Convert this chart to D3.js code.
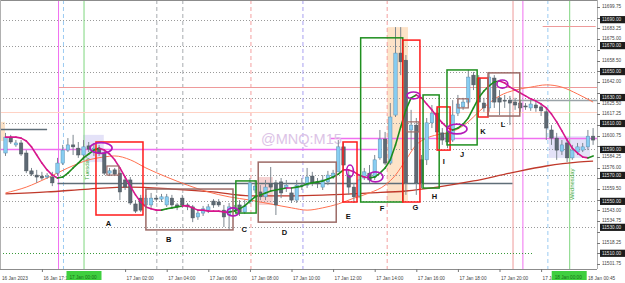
<!DOCTYPE html>
<html>
<head>
<meta charset="utf-8">
<script src="https://cdn.jsdelivr.net/npm/d3@7"></script>
<style>
  html, body { margin: 0; padding: 0; background: #fff; }
  svg { display: block; }
</style>
</head>
<body>
<div id="chart"></div>
<script>
// MNQ M15 — bougies + moyennes + annotations (lecture à l'oeil du screenshot)

// --- Données ---
const opens = [11587.25,11599.5,11593.5,11595,11587.25,11573.5,11570.25,11569.5,11568.75,11568.75,
  11571.75,11579.5,11589.5,11593.5,11591,11585.75,11592.75,11588,11591,11587.25,
  11571.75,11574.25,11571.75,11566.5,11566.5,11548,11552.5,11547.25,11547.25,11552.5,
  11551.75,11547.25,11552.5,11547.25,11552.5,11547.25,11545.75,11538,11541,11543.25,
  11550.25,11549.5,11543.25,11539.5,11543.25,11547.25,11541.75,11549.5,11558.75,11557.25,
  11553.5,11563.5,11564.25,11565,11560.25,11556.5,11551,11561.75,11562.5,11569.5,
  11565,11561,11565,11568.75,11572.75,11592,11570.25,11561,11554.25,11568,
  11571.75,11568.75,11583.5,11598,11579.5,11616.5,11664.25,11658.75,11605,11608.75,
  11582,11582,11610.5,11618,11602.75,11602.75,11597.25,11618,11622.75,11626.5,
  11647.25,11645,11625.75,11622,11645,11629.75,11628,11628,11626.5,11625.75,
  11623.5,11622,11624.25,11622.75,11619,11605,11598.75,11588.75,11595,11583.5,
  11588,11589.5,11592,11600.25]
const highs = [11602.75,11601.25,11597.25,11597.25,11589.5,11575.75,11574.25,11572.75,11571.75,11572.75,
  11583.5,11593.5,11598.75,11601.25,11595.75,11597.25,11595.75,11595,11593.5,11589.5,
  11575.75,11575.75,11574.25,11569.5,11568.75,11551,11555,11555,11556.5,11555,
  11555.75,11555.75,11555,11548.75,11555,11548.75,11547.25,11543.25,11546.5,11548,
  11551.75,11551.75,11547.25,11548.75,11547.25,11551,11551,11568,11566.5,11562.5,
  11566.5,11576.5,11566.5,11568,11566.5,11560.25,11566.5,11568,11575.75,11572.75,
  11568,11570.25,11573.5,11574.25,11597.25,11595,11574.25,11564.25,11569.5,11575.75,
  11578,11585.75,11605,11603.5,11625.75,11684.25,11684.25,11662.75,11620.5,11614.25,
  11585.75,11614.25,11624.25,11622,11606.5,11606.5,11628,11632,11629.75,11651.25,
  11649.75,11647.25,11629.75,11649.75,11647.25,11635.75,11632,11631.25,11629.75,11628,
  11625.75,11628,11626.5,11625,11622,11608.75,11602.75,11597.25,11598.75,11593.5,
  11595,11595,11605,11606.5]
const lows = [11585,11594.25,11592,11585,11571.75,11569.5,11564.25,11566.5,11567.25,11561.75,
  11570.25,11578,11588,11585.75,11583.5,11582,11588,11585,11585,11570.25,
  11569.5,11569.5,11551,11558.75,11547.25,11541,11541.75,11545,11545,11550.25,
  11549.5,11545.75,11545,11543.25,11545,11543.25,11534,11535.75,11538.75,11541,
  11545,11545.75,11530.25,11528,11541.75,11538.75,11540.25,11548,11556.5,11551,
  11551,11558.75,11539.5,11552.5,11557.25,11548.75,11548.75,11558.75,11560.25,11561.75,
  11560.25,11558.75,11562.5,11567.25,11575.75,11574.25,11555,11548.75,11552.5,11566.5,
  11564.25,11566.5,11582,11578,11578,11615,11647.25,11555,11589.5,11555,
  11560.25,11578,11606.5,11597.25,11593.5,11591,11595.75,11615.75,11620.5,11625,
  11635.75,11620.5,11619,11619,11622,11616.5,11622,11608.75,11620.5,11619,
  11620.5,11619.75,11619,11615.75,11597.25,11593.5,11582,11585.75,11580.25,11582,
  11585.75,11588,11589.5,11593.5]
const closes = [11599.5,11595.75,11595,11586.5,11573.5,11571,11568.75,11568,11569.5,11564.25,
  11579.5,11589.5,11593.5,11592,11585.75,11592,11590.25,11591,11587.25,11571.75,
  11573.5,11571,11557.25,11561,11548.75,11542.5,11543.25,11552.5,11552.5,11551.75,
  11553.5,11553.5,11547.25,11545.75,11547.25,11545.75,11537.25,11541,11544.25,11545.75,
  11547.25,11547.25,11538,11545.75,11545,11541.75,11546.5,11564.25,11561.75,11553.5,
  11561,11561,11547.25,11556.5,11562.5,11551,11562.5,11562.5,11568.75,11564.25,
  11563.5,11566.5,11570.25,11571.75,11592,11578,11561,11553.5,11566.5,11572.75,
  11566.5,11582,11598,11579.5,11615,11664.25,11657.5,11564.25,11608.75,11564.25,
  11564.25,11610.5,11618,11603.5,11597.25,11595.75,11616.5,11625,11626.5,11645.75,
  11639.75,11626.5,11622,11645.75,11626.5,11626.5,11627.25,11625.75,11624.25,11622,
  11622.75,11625,11622,11619.75,11606.5,11598.75,11589.5,11593.5,11583.5,11589.5,
  11592,11592,11600.25,11597.25]

// moyenne rapide (une valeur par bougie), couleur selon la pente
const fastMA = [11599.5,11599.5,11599.5,11598.75,11596.5,11592,11585.75,11579.5,11574.25,11570.25,
  11568,11568.75,11571.75,11575.75,11579.5,11583.5,11586.5,11589.5,11591,11589.5,
  11586.5,11582,11575.75,11568.75,11561.75,11555,11549.5,11545.75,11544.25,11543.25,
  11543.25,11544.25,11545,11545.75,11546.5,11546.5,11545,11543.25,11543.25,11542.5,
  11542.5,11542.5,11541.75,11541.75,11542.5,11544.25,11546.5,11550.25,11553.5,11555,
  11556.5,11558,11558.75,11559.5,11560.25,11560.25,11561,11561.75,11563.5,11564.25,
  11565,11565.75,11567.25,11568.75,11571,11574.25,11574.25,11572.75,11570.25,11568.75,
  11568,11568.75,11571.75,11575.75,11582,11593.5,11607.25,11620.5,11629.75,11632,
  11629.75,11625,11620.5,11615,11610.5,11606.5,11605,11606.5,11609.5,11614.25,
  11622,11629.75,11635,11639,11642,11642.75,11641.25,11638,11635.75,11633.5,
  11631.25,11629,11627.25,11625,11622,11617.25,11611.25,11604.25,11597.25,11591,
  11587.25,11584.25,11583.5,11585]

// moyennes lentes : points relevés [index bougie, prix]
const orangeMA = [[0,11556.5],[4,11561],[8,11568],[12,11575.75],[16,11582],[19,11584.25],[21,11585],
  [24,11582],[27,11575.75],[31,11568.75],[35,11562.5],[39,11557.25],[43,11553.5],[47,11551],
  [51,11548],[55,11545],[58,11543.25],[61,11545],[64,11548],[67,11552.5],[70,11556.5],
  [73,11562.5],[75,11570.25],[77,11582],[79,11593.5],[81,11598.75],[83,11601.25],[85,11602.75],
  [87,11605.75],[89,11611.25],[91,11619],[93,11625.75],[95,11631.25],[98,11635.75],[101,11638],
  [104,11639.75],[107,11638],[110,11632.75],[113,11626.5]]
const redMA = [[0,11555.75],[8,11557.25],[16,11559.5],[24,11561],[32,11559.5],[40,11557.25],
  [47,11554.25],[55,11554.25],[62,11555],[70,11556.5],[77,11558],[83,11561],[90,11565.75],
  [97,11571.75],[104,11577.25],[110,11580.25],[113,11581]]

// axe des temps
const tickIdx = [7, 23, 31, 39, 47, 55, 63, 71, 79, 87, 95, 103]
const tickLabels = ["16 Jan 17:15", "17 Jan 02:00", "17 Jan 04:00", "17 Jan 06:00", "17 Jan 08:00",
  "17 Jan 10:00", "17 Jan 12:00", "17 Jan 14:00", "17 Jan 16:00", "17 Jan 18:00", "17 Jan 20:00",
  "17 Jan 22:00"]
const firstLabel = "16 Jan 2023"
const lastLabel = "18 Jan 00:45"
const markedTimes = [[15, "17 Jan 00:00"], [108.5, "18 Jan 00:00"]]

// axe des prix
const priceMin = 11501.75
const priceStep = 8.25
const priceTicks = d3.range(25).map((k) => priceMin + k * priceStep)
const levelPrices = d3.range(11510, 11691, 20)

// lignes horizontales : [prix, index début, index fin, type]
const hLines = [
  [11605.75, -2, 8, "slate"], [11564.25, 10, 97.5, "slate"], [11628, 97, 116, "gray"],
  [11590.25, -2, 71.5, "pink"], [11598.75, 62.5, 116, "pink"], [11619, -2, 116, "peach"],
  [11638, 10.2, 116, "salmon"], [11685, 103.3, 113.5, "salmon"], [11510, -2, 101.5, "greendot"],
]
// lignes verticales : [index, type]
const vLines = [[10.2, "pink"], [11.15, "bluedash"], [15.1, "green"], [29.1, "graydash"],
  [34.1, "graydash"], [47.2, "pinkdash"], [57.2, "purpledash"], [73.4, "pinkdash"],
  [97.6, "salmon"], [99.5, "pink"], [104.3, "bluedash"], [108.5, "green"]]
const dayNames = [[15.1, 11566.5, "Tuesday"], [108.5, 11551, "Wednesday"]]

// zones ombrées : [i0, i1, p0, p1, type]
const shades = [[-1.06, -0.1, 11611.25, 11596.5, "peach"], [14.9, 18.9, 11601.25, 11580.25, "lavender"],
  [48.75, 51.4, 11568.75, 11547.25, "rose"], [73.4, 77.4, 11684.25, 11549.5, "peach"],
  [104.5, 112.4, 11600.25, 11583.5, "lavender"]]

// cadres : [lettre, i0, i1, pHaut, pBas, type, iLabel, pLabel]
const boxes = [
  ["A", 17.4, 26.44, 11595.75, 11539.5, "red", 19.8, 11532.25],
  ["B", 27, 43.75, 11559.5, 11528, "brown", 31.4, 11520],
  ["C", 44.3, 48.2, 11565.75, 11541, "green", 45.9, 11528.25],
  ["D", 48.6, 63.6, 11580.25, 11534, "brown", 53.65, 11525.25],
  ["E", 64.9, 67.6, 11595.75, 11549.5, "red", 65.9, 11538.25],
  ["F", 68.3, 76.4, 11676, 11549.5, "green", 72.4, 11543.75],
  ["G", 76.4, 79.7, 11674.25, 11549.5, "red", 78.85, 11544.5],
  ["H", 80.3, 83.4, 11632, 11560.25, "green", 82.5, 11553],
  ["I", 83, 85.5, 11622.75, 11589.5, "red", 84.3, 11580.25],
  ["J", 84.9, 90.7, 11651.25, 11593.5, "green", 87.8, 11586],
  ["K", 90.9, 92.8, 11645, 11615, "red", 91.8, 11603.5],
  ["L", 92.8, 98.9, 11649, 11615.75, "brown", 95.7, 11608.75],
]
const smallBoxes = [[19.5, 21.8, 11577.25, 11570.25], [77.2, 79.5, 11611.25, 11603.5],
  [87, 89, 11629, 11622]]
// ellipses : [i0, i1, pHaut, pBas]
const ellipses = [[16.25, 20.5, 11595.25, 11587], [42.6, 44.9, 11545, 11538.75],
  [65.6, 66.9, 11578, 11568.75], [69.7, 72.6, 11572.75, 11565], [77.2, 79.7, 11634.25, 11629],
  [84.9, 88.75, 11609.5, 11602], [94.5, 96.6, 11643.5, 11637.25]]

// --- Mise en page ---
const W = 625, H = 283
const plotR = 597, plotB = 269

const svg = d3.select("#chart").append("svg")
  .attr("width", W).attr("height", H)
  .attr("font-family", "Liberation Sans, Arial, sans-serif")

const x = d3.scaleLinear().domain([0, 113]).range([5.5, 593.1])
const y = d3.scaleLinear().domain([priceMin, priceMin + 24 * priceStep]).range([264, 7])
const fmt = d3.format(".2f")

const colors = {
  red: "#ff1a1a", green: "#1f8f1f", brown: "#9c6a66",
  slate: "#5f6e78", gray: "#9aa3a8", pink: "#f070f0", peach: "#ffd2c4", salmon: "#ee9a9a",
  greendot: "#3a9a3a", bluedash: "#9ccbf2", graydash: "#a8adb0", pinkdash: "#f4a0a0",
  purpledash: "#a8a0f0", lavender: "#e4e2f8", rose: "#f6d2d2",
  bull: "#87cdf2", bear: "#5d6973", wick: "#7d878f",
}

const plot = svg.append("g")
svg.append("defs").append("clipPath").attr("id", "clip")
  .append("rect").attr("x", 0).attr("y", 0).attr("width", plotR).attr("height", plotB)
plot.attr("clip-path", "url(#clip)")

// zones ombrées (derrière)
plot.selectAll("rect.shade").data(shades).join("rect")
  .attr("x", (d) => x(d[0])).attr("width", (d) => x(d[1]) - x(d[0]))
  .attr("y", (d) => y(d[2])).attr("height", (d) => y(d[3]) - y(d[2]))
  .attr("fill", (d) => d[4] === "peach" ? "#fde3c8" : colors[d[4]])

// grille pointillée aux niveaux ronds
plot.selectAll("line.grid").data(levelPrices.filter((p) => p !== 11510)).join("line")
  .attr("x1", 0).attr("x2", plotR)
  .attr("y1", (d) => Math.round(y(d)) + 0.5).attr("y2", (d) => Math.round(y(d)) + 0.5)
  .attr("stroke", "#9a9a9a").attr("stroke-width", 1).attr("stroke-dasharray", "1,2")

// lignes verticales
const vDash = { bluedash: "4,3", graydash: "4,3", pinkdash: "4,3", purpledash: "4,3" }
plot.selectAll("line.v").data(vLines).join("line")
  .attr("x1", (d) => x(d[0])).attr("x2", (d) => x(d[0]))
  .attr("y1", 0).attr("y2", plotB)
  .attr("stroke", (d) => d[1] === "green" ? "#7fd67f" : colors[d[1]])
  .attr("stroke-width", 1)
  .attr("stroke-dasharray", (d) => vDash[d[1]] || null)

// lignes horizontales
plot.selectAll("line.h").data(hLines).join("line")
  .attr("x1", (d) => Math.max(0, x(d[1]))).attr("x2", (d) => Math.min(plotR, x(d[2])))
  .attr("y1", (d) => Math.round(y(d[0])) + 0.5).attr("y2", (d) => Math.round(y(d[0])) + 0.5)
  .attr("stroke", (d) => colors[d[3]])
  .attr("stroke-width", (d) => d[3] === "slate" || d[3] === "gray" ? 1.6 : (d[3] === "pink" ? 1.4 : 1))
  .attr("stroke-dasharray", (d) => d[3] === "greendot" ? "1,2" : null)

// filigrane
plot.append("text")
  .attr("x", 261).attr("y", 144)
  .attr("font-size", 14.5).attr("fill", "#dcc3e6")
  .text("@MNQ:M15")

// noms des jours (verticaux)
dayNames.forEach(([i, p, name]) => {
  plot.append("text")
    .attr("transform", `translate(${x(i) + 4.5},${y(p)}) rotate(-90)`)
    .attr("font-size", 6).attr("fill", "#3aa83a")
    .text(name)
})

// moyennes lentes
const curve = d3.line().x((d) => x(d[0])).y((d) => y(d[1])).curve(d3.curveMonotoneX)
plot.append("path").datum(redMA).attr("d", curve)
  .attr("fill", "none").attr("stroke", "#c0392b").attr("stroke-width", 1.3)
plot.append("path").datum(orangeMA).attr("d", curve)
  .attr("fill", "none").attr("stroke", "#ff7150").attr("stroke-width", 1)

// bougies
const bw = 3.4
const idx = d3.range(opens.length)
plot.selectAll("line.wick").data(idx).join("line")
  .attr("x1", (i) => x(i)).attr("x2", (i) => x(i))
  .attr("y1", (i) => y(highs[i])).attr("y2", (i) => y(lows[i]))
  .attr("stroke", colors.wick).attr("stroke-width", 1)
plot.selectAll("rect.body").data(idx).join("rect")
  .attr("x", (i) => x(i) - bw / 2).attr("width", bw)
  .attr("y", (i) => y(Math.max(opens[i], closes[i])))
  .attr("height", (i) => Math.max(1, Math.abs(y(opens[i]) - y(closes[i]))))
  .attr("fill", (i) => closes[i] >= opens[i] ? colors.bull : colors.bear)
  .attr("stroke", (i) => closes[i] >= opens[i] ? "#5b8fb0" : "#4c565e")
  .attr("stroke-width", 0.5)

// moyenne rapide bicolore
plot.selectAll("line.fast").data(d3.range(fastMA.length - 1)).join("line")
  .attr("x1", (i) => x(i)).attr("x2", (i) => x(i + 1))
  .attr("y1", (i) => y(fastMA[i])).attr("y2", (i) => y(fastMA[i + 1]))
  .attr("stroke", (i) => fastMA[i + 1] > fastMA[i] ? "#1e8c1e" : "#d6168c")
  .attr("stroke-width", 1.6).attr("stroke-linecap", "round")

// cadres d'annotation
plot.selectAll("rect.box").data(boxes).join("rect")
  .attr("x", (d) => x(d[1])).attr("width", (d) => x(d[2]) - x(d[1]))
  .attr("y", (d) => y(d[3])).attr("height", (d) => y(d[4]) - y(d[3]))
  .attr("fill", "none").attr("stroke", (d) => colors[d[5]]).attr("stroke-width", 1.5)
plot.selectAll("rect.small").data(smallBoxes).join("rect")
  .attr("x", (d) => x(d[0])).attr("width", (d) => x(d[1]) - x(d[0]))
  .attr("y", (d) => y(d[2])).attr("height", (d) => y(d[3]) - y(d[2]))
  .attr("fill", "none").attr("stroke", colors.brown).attr("stroke-width", 1.2)
plot.selectAll("ellipse").data(ellipses).join("ellipse")
  .attr("cx", (d) => (x(d[0]) + x(d[1])) / 2).attr("cy", (d) => (y(d[2]) + y(d[3])) / 2)
  .attr("rx", (d) => (x(d[1]) - x(d[0])) / 2).attr("ry", (d) => (y(d[3]) - y(d[2])) / 2)
  .attr("fill", "none").attr("stroke", "#b318b8").attr("stroke-width", 1.6)
plot.selectAll("text.letter").data(boxes).join("text")
  .attr("x", (d) => x(d[6])).attr("y", (d) => y(d[7]))
  .attr("text-anchor", "middle").attr("dominant-baseline", "middle")
  .attr("font-size", 7.5).attr("font-weight", 700).attr("fill", "#111")
  .text((d) => d[0])

// cadre du graphique
svg.append("line").attr("x1", 0).attr("x2", plotR).attr("y1", 0.5).attr("y2", 0.5)
  .attr("stroke", "#8c8c8c")
svg.append("line").attr("x1", 0.5).attr("x2", 0.5).attr("y1", 0).attr("y2", plotB)
  .attr("stroke", "#b0b0b0")
svg.append("line").attr("x1", plotR + 0.5).attr("x2", plotR + 0.5).attr("y1", 0).attr("y2", plotB)
  .attr("stroke", "#b0b0b0")
svg.append("line").attr("x1", 0).attr("x2", plotR).attr("y1", plotB + 0.5).attr("y2", plotB + 0.5)
  .attr("stroke", "#8c8c8c")

// axe des prix (droite) — on masque les graduations recouvertes par un niveau encadré
const freeTicks = priceTicks.filter((p) => levelPrices.every((l) => Math.abs(y(p) - y(l)) > 5))
const yAxis = svg.append("g")
yAxis.selectAll("line").data(priceTicks).join("line")
  .attr("x1", plotR).attr("x2", plotR + 3)
  .attr("y1", (d) => Math.round(y(d)) + 0.5).attr("y2", (d) => Math.round(y(d)) + 0.5)
  .attr("stroke", "#777")
yAxis.selectAll("text").data(freeTicks).join("text")
  .attr("x", plotR + 5).attr("y", (d) => y(d))
  .attr("dominant-baseline", "middle")
  .attr("font-size", 4.7).attr("fill", "#444")
  .text((d) => fmt(d))
const lvl = svg.append("g").selectAll("g").data(levelPrices).join("g")
  .attr("transform", (d) => `translate(${plotR + 3},${y(d)})`)
lvl.append("rect").attr("x", 0).attr("y", -3.6).attr("width", 25).attr("height", 7.2)
  .attr("fill", "#1c1c1c")
lvl.append("text").attr("x", 2).attr("y", 0).attr("dominant-baseline", "middle")
  .attr("font-size", 4.7).attr("fill", "#e8e8e8")
  .text((d) => fmt(d))

// axe des temps (bas)
const xAxis = svg.append("g")
xAxis.selectAll("line").data(tickIdx).join("line")
  .attr("x1", (i) => x(i) + 0.5).attr("x2", (i) => x(i) + 0.5)
  .attr("y1", plotB).attr("y2", plotB + 3).attr("stroke", "#777")
xAxis.selectAll("text").data(tickIdx).join("text")
  .attr("x", (i) => x(i) + 1.5).attr("y", 279.5)
  .attr("font-size", 4.7).attr("fill", "#444")
  .text((_, k) => k === tickIdx.length - 1 ? tickLabels[k].slice(0, 5) : tickLabels[k])
xAxis.append("text").attr("x", 2).attr("y", 279.5)
  .attr("font-size", 4.7).attr("fill", "#444").text(firstLabel)
xAxis.append("text").attr("x", 588).attr("y", 279.5)
  .attr("font-size", 4.7).attr("fill", "#444").text(lastLabel)

// étiquettes de séparateurs de jour (fond vert)
markedTimes.forEach(([i, label], k) => {
  const left = k === 0 ? x(i) - 17 : x(i) - 18
  const g = xAxis.append("g").attr("transform", `translate(${left},${plotB + 2})`)
  g.append("rect").attr("width", 35).attr("height", 9).attr("fill", "#3fcf3f")
  g.append("text").attr("x", 3).attr("y", 7.5).attr("font-size", 4.7).attr("fill", "#187018")
    .text(label)
})
</script>
</body>
</html>
